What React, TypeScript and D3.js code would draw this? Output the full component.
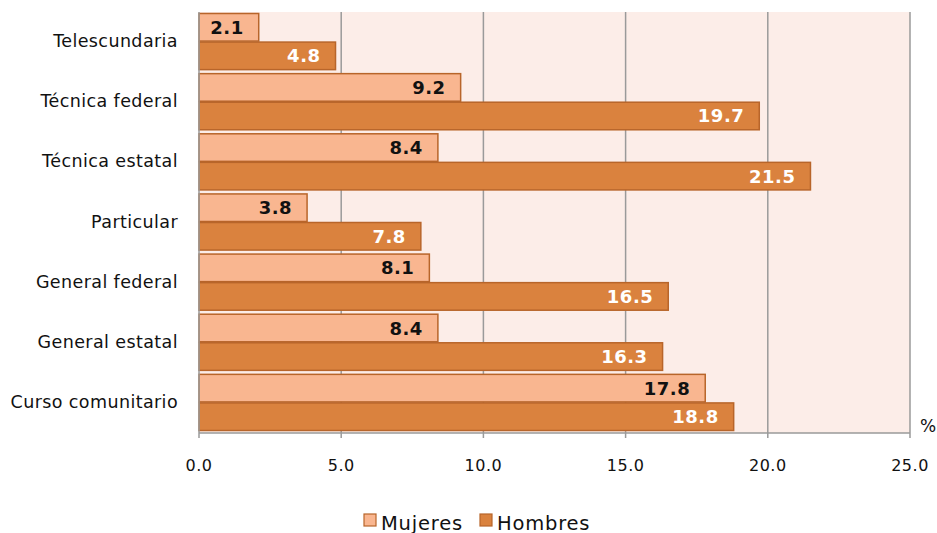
import React from "react";
import * as d3 from "d3";

const categories = ["Telescundaria", "Técnica federal", "Técnica estatal", "Particular", "General federal", "General estatal", "Curso comunitario"];
const mujeres = [2.1, 9.2, 8.4, 3.8, 8.1, 8.4, 17.8];
const hombres = [4.8, 19.7, 21.5, 7.8, 16.5, 16.3, 18.8];
const xTicks = [0, 5, 10, 15, 20, 25];
const seriesNames = ["Mujeres", "Hombres"];

const W = 937, H = 533;
const M = { left: 199, right: 910, top: 12, bottom: 433 };
const FONT = "'DejaVu Sans', sans-serif";
const fills = ["#F9B690", "#DA823E"];
const stroke = "#B8652A";

export default function App() {
  const x = d3.scaleLinear().domain([0, 25]).range([M.left, M.right]);
  const y = d3.scaleBand().domain(categories).range([M.top, M.bottom]).paddingInner(0.05).paddingOuter(0.025);
  const sub = d3.scaleBand().domain(seriesNames).range([0, y.bandwidth()]);
  const series = [mujeres, hombres];
  return (
    <svg width={W} height={H} style={{ position: "absolute", left: 0, top: 0, background: "#fff" }}>
      <rect x={M.left} y={M.top} width={M.right - M.left} height={M.bottom - M.top} fill="#FCEDE8" />
      {xTicks.slice(1).map((t) => (
        <line key={t} x1={x(t)} x2={x(t)} y1={M.top} y2={M.bottom} stroke="#9a9a9a" strokeWidth={1.5} />
      ))}
      {categories.map((c, i) => (
        <g key={c}>
          {series.map((s, k) => {
            const yy = (y(c) as number) + (sub(seriesNames[k]) as number);
            const h = sub.bandwidth();
            return (
              <g key={k}>
                <rect x={x(0)} y={yy} width={x(s[i]) - x(0)} height={h - 1} fill={fills[k]} stroke={stroke} strokeWidth={1.5} />
                <text x={x(s[i]) - 15} y={yy + h / 2 + 1} textAnchor="end" dominantBaseline="middle"
                  fontFamily={FONT} fontWeight="bold" fontSize={18} letterSpacing={0.5} fill={k === 0 ? "#111" : "#fff"}>
                  {s[i].toFixed(1)}
                </text>
              </g>
            );
          })}
          <text x={178} y={(y(c) as number) + y.bandwidth() / 2} textAnchor="end" dominantBaseline="middle"
            fontFamily={FONT} fontSize={17.5} letterSpacing={0.4} fill="#111">{c}</text>
        </g>
      ))}
      <line x1={M.left} x2={M.left} y1={M.top} y2={M.bottom} stroke="#9a9a9a" strokeWidth={1.5} />
      <line x1={M.left} x2={M.right} y1={M.bottom} y2={M.bottom} stroke="#9a9a9a" strokeWidth={1.5} />
      {xTicks.map((t) => (
        <g key={t}>
          <line x1={x(t)} x2={x(t)} y1={M.bottom} y2={M.bottom + 5} stroke="#9a9a9a" strokeWidth={1.5} />
          <text x={x(t)} y={466} textAnchor="middle" dominantBaseline="middle" fontFamily={FONT} fontSize={16} letterSpacing={0.5} fill="#111">{t.toFixed(1)}</text>
        </g>
      ))}
      <text x={928} y={427} textAnchor="middle" dominantBaseline="middle" fontFamily={FONT} fontSize={17} fill="#111">%</text>
      {seriesNames.map((n, k) => (
        <g key={n} transform={`translate(${k === 0 ? 364 : 480},512)`}>
          <rect x={0} y={2} width={12} height={12} fill={fills[k]} stroke={stroke} strokeWidth={1.2} />
          <text x={17} y={12} dominantBaseline="middle" fontFamily={FONT} fontSize={19.5} letterSpacing={0.8} fill="#111">{n}</text>
        </g>
      ))}
    </svg>
  );
}
